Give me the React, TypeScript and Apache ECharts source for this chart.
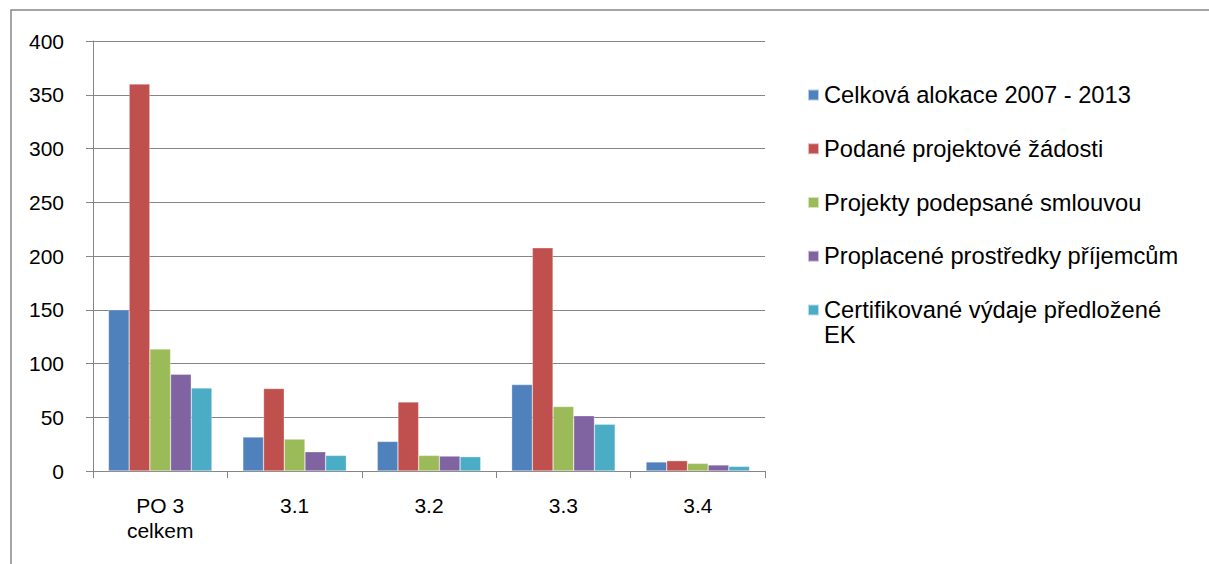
import React, { useEffect, useRef } from "react";
import * as echarts from "echarts";

const categories = ["PO 3\ncelkem", "3.1", "3.2", "3.3", "3.4"];
const seriesNames = [
  "Celková alokace 2007 - 2013",
  "Podané projektové žádosti",
  "Projekty podepsané smlouvou",
  "Proplacené prostředky příjemcům",
  "Certifikované výdaje předložené EK",
];
const alokace = [150, 31.6, 27.5, 80.4, 8.4];
const podane = [360, 76.7, 64.3, 207.6, 9.6];
const podepsane = [113.5, 29.7, 14.5, 60, 7.1];
const proplacene = [90, 17.9, 13.9, 51.4, 5.6];
const certifikovane = [77.3, 14.5, 13.3, 43.6, 4.3];
const yTicks = [0, 50, 100, 150, 200, 250, 300, 350, 400];

const colors = ["#4F81BD", "#C0504D", "#9BBB59", "#8064A2", "#4BACC6"];
const FONT = "Liberation Sans";

export default function App() {
  const ref = useRef<HTMLDivElement>(null);
  useEffect(() => {
    if (!ref.current) return;
    const chart = echarts.init(ref.current, undefined, { renderer: "svg" });
    const values = [alokace, podane, podepsane, proplacene, certifikovane];
    const legendFont = 23.7;
    const legendLine = 25;
    const mark = 11;
    const step = 53.75;
    const firstY = 95;
    const legendBase = {
      orient: "vertical",
      left: 802,
      itemWidth: mark,
      itemHeight: mark,
      itemGap: step - legendLine,
      icon: "rect",
      textStyle: {
        fontFamily: FONT,
        fontSize: legendFont,
        lineHeight: legendLine,
        color: "#000",
      },
    };
    chart.setOption({
      animation: false,
      backgroundColor: "#ffffff",
      graphic: [
        {
          type: "rect",
          shape: { x: 11, y: 10, width: 1400, height: 800 },
          style: { fill: "none", stroke: "#868686", lineWidth: 1.5 },
          silent: true,
        },
      ],
      grid: { left: 93, right: 444, top: 41, bottom: 93, containLabel: false },
      legend: [
        {
          ...legendBase,
          top: firstY - legendLine / 2 - 5,
          data: seriesNames.slice(0, 4),
        },
        {
          ...legendBase,
          top: firstY + 4 * step - legendLine * 1.5 - 5,
          formatter: () => " \nCertifikované výdaje předložené\nEK",
          data: seriesNames.slice(4),
        },
      ],
      xAxis: {
        type: "category",
        data: categories,
        axisLine: { lineStyle: { color: "#868686", width: 1 } },
        axisTick: { show: true, length: 7, lineStyle: { color: "#868686" } },
        axisLabel: {
          fontFamily: FONT,
          fontSize: 21,
          lineHeight: 25,
          color: "#000",
          margin: 22,
        },
      },
      yAxis: {
        type: "value",
        min: yTicks[0],
        max: yTicks[yTicks.length - 1],
        interval: 50,
        axisLine: { show: true, lineStyle: { color: "#868686", width: 1 } },
        axisTick: { show: true, length: 7, lineStyle: { color: "#868686" } },
        splitLine: { lineStyle: { color: "#868686", width: 1 } },
        axisLabel: {
          fontFamily: FONT,
          fontSize: 21,
          color: "#000",
          margin: 29,
        },
      },
      series: seriesNames.map((n, i) => ({
        name: n,
        type: "bar",
        data: values[i],
        barGap: "0%",
        barCategoryGap: "23%",
        itemStyle: { color: colors[i], borderColor: "rgba(255,255,255,0.6)", borderWidth: 0.5 },
      })),
    });
    return () => chart.dispose();
  }, []);
  return (
    <div
      ref={ref}
      style={{ position: "fixed", left: 0, top: 0, width: 1209, height: 564 }}
    />
  );
}
